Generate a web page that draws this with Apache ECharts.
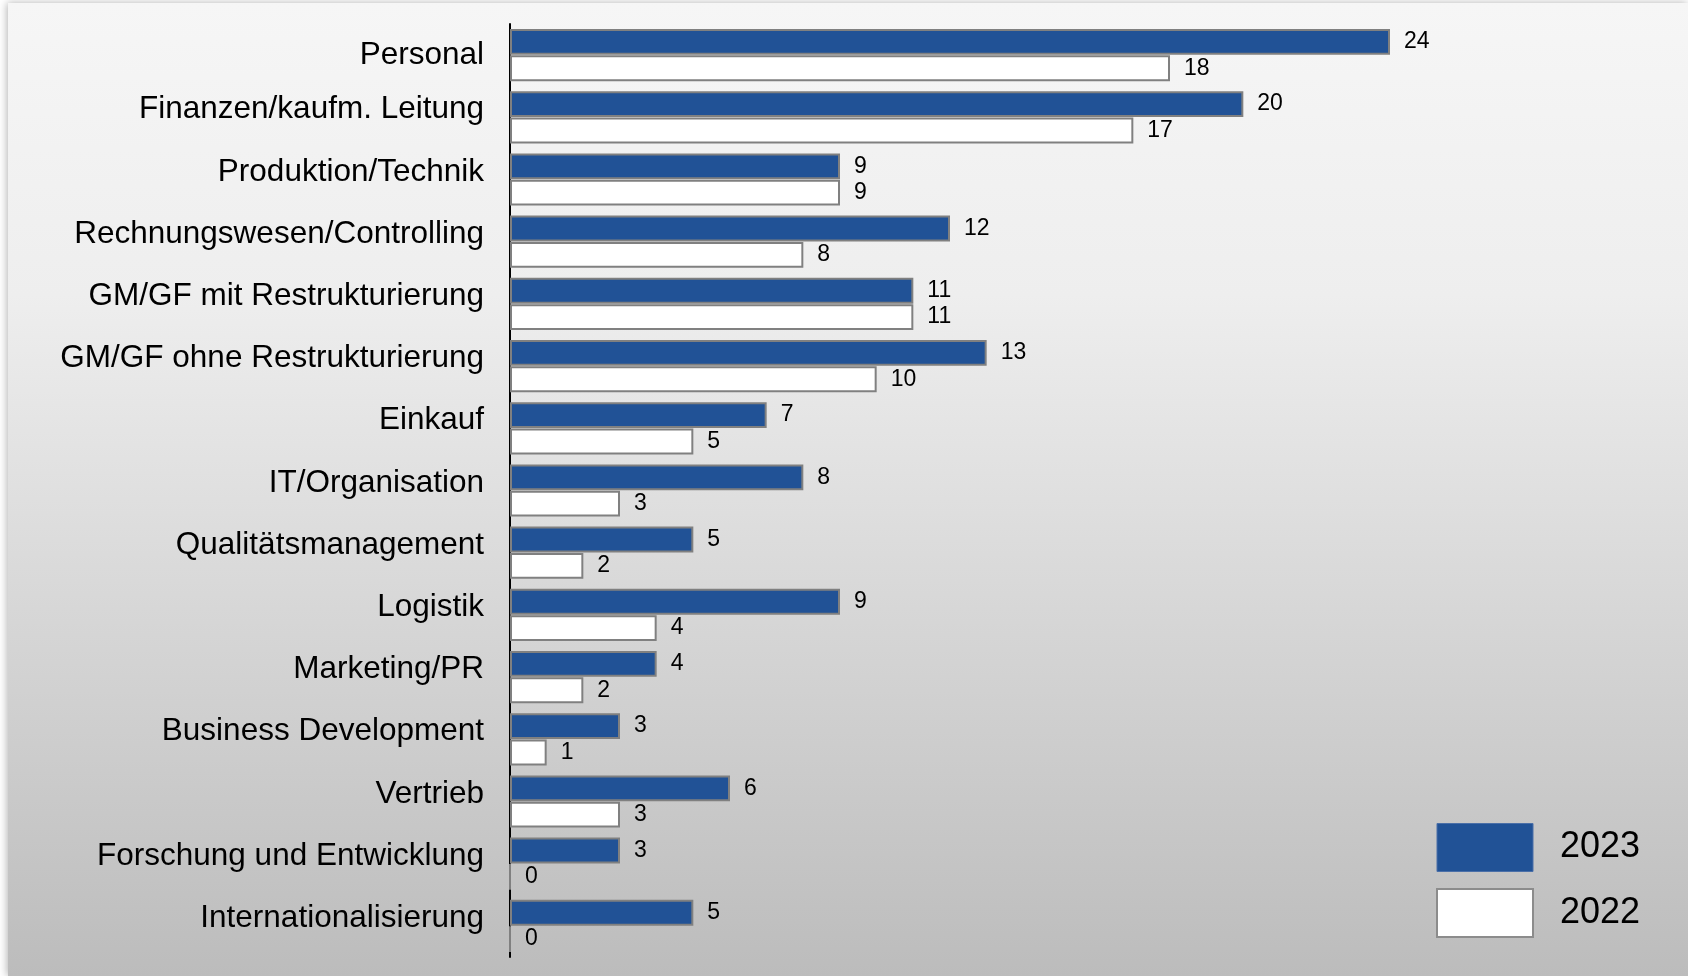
<!DOCTYPE html>
<html>
<head>
<meta charset="utf-8">
<title>Funktionsbereiche 2023 / 2022</title>
<script src="https://cdn.jsdelivr.net/npm/echarts@6/dist/echarts.min.js"></script>
<style>
  html, body { margin: 0; padding: 0; background: #fff; }
  #chart { width: 1688px; height: 976px; }
</style>
</head>
<body>
<div id="chart"></div>
<script>
  // categories top -> bottom
  const categories = [
    'Personal',
    'Finanzen/kaufm. Leitung',
    'Produktion/Technik',
    'Rechnungswesen/Controlling',
    'GM/GF mit Restrukturierung',
    'GM/GF ohne Restrukturierung',
    'Einkauf',
    'IT/Organisation',
    'Qualitätsmanagement',
    'Logistik',
    'Marketing/PR',
    'Business Development',
    'Vertrieb',
    'Forschung und Entwicklung',
    'Internationalisierung'
  ]
  const values2023 = [24, 20, 9, 12, 11, 13, 7, 8, 5, 9, 4, 3, 6, 3, 5]
  const values2022 = [18, 17, 9, 8, 11, 10, 5, 3, 2, 4, 2, 1, 3, 0, 0]

  const font = 'Liberation Sans, Arial, sans-serif'
  const blue = '#215296'

  const chart = echarts.init(document.getElementById('chart'))

  // labels sit a bit above the category centre, except the first one
  const yData = categories.map((c, i) => i === 0
    ? { value: c, textStyle: { lineHeight: 30 } }
    : c)

  chart.setOption({
    animation: false,
    textStyle: { fontFamily: font },
    // panel with gradient + soft shadow on the left
    graphic: [{
      type: 'rect',
      z: -100,
      shape: { x: 8, y: 3, width: 1680, height: 973 },
      style: {
        fill: new echarts.graphic.LinearGradient(0, 0, 0, 1, [
          { offset: 0, color: '#f6f6f6' },
          { offset: 0.3, color: '#eeeeee' },
          { offset: 1, color: '#bcbcbc' }
        ]),
        shadowBlur: 8,
        shadowColor: 'rgba(0,0,0,0.3)',
        shadowOffsetX: -1
      }
    }],
    legend: {
      orient: 'vertical',
      left: 1436,
      top: 823,
      padding: 0,
      icon: 'rect',
      itemWidth: 96,
      itemHeight: 48,
      itemGap: 16,
      textStyle: { fontSize: 36, color: '#000', padding: [0, 0, 0, 22] },
      data: [
        { name: '2023', itemStyle: { borderColor: '#4a6fa8', borderWidth: 1 } },
        { name: '2022', itemStyle: { borderColor: '#8c8c8c', borderWidth: 2 } }
      ]
    },
    grid: {
      left: 510,
      right: 298,
      top: 24,
      bottom: 19,
      containLabel: false
    },
    xAxis: {
      type: 'value',
      min: 0,
      max: 24,
      show: false
    },
    yAxis: {
      type: 'category',
      inverse: true,
      data: yData,
      axisLine: { lineStyle: { color: '#000', width: 2 } },
      axisTick: { show: false },
      axisLabel: {
        fontSize: 31.5,
        color: '#000',
        margin: 26,
        verticalAlign: 'bottom',
        lineHeight: 15
      }
    },
    series: [
      {
        name: '2023',
        type: 'bar',
        data: values2023,
        barGap: '2%',
        barCategoryGap: '16%',
        itemStyle: { color: blue, borderColor: '#808080', borderWidth: 2 },
        label: { show: true, position: 'right', distance: 14, fontSize: 23, color: '#000' }
      },
      {
        name: '2022',
        type: 'bar',
        data: values2022,
        barGap: '2%',
        barCategoryGap: '16%',
        itemStyle: { color: '#fff', borderColor: '#808080', borderWidth: 2 },
        label: { show: true, position: 'right', distance: 14, fontSize: 23, color: '#000' }
      }
    ]
  })
</script>
</body>
</html>
